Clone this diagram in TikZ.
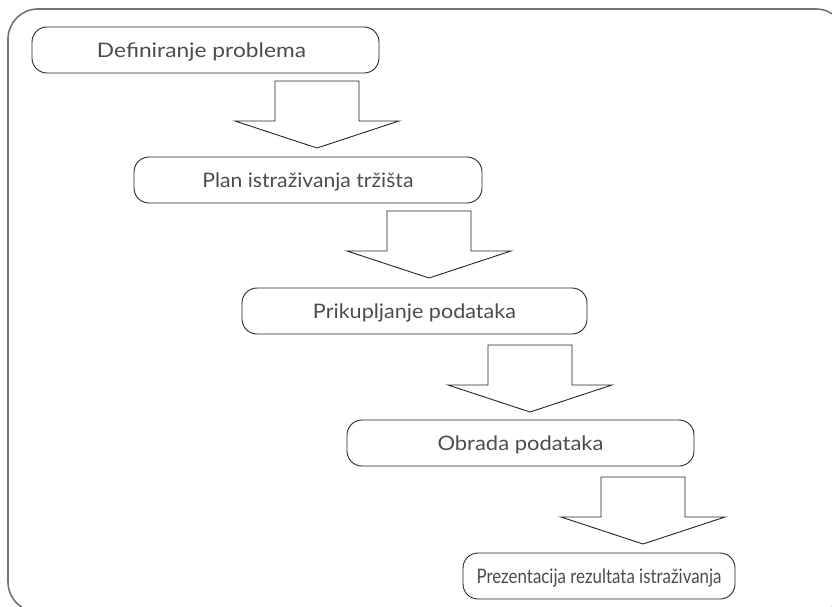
\documentclass[tikz,border=0pt]{standalone}
\usepackage{fontspec}
\usepackage{graphicx}
\setmainfont{Lato}
\newcommand{\fitw}[2]{\resizebox{#1}{\height}{#2}}
\begin{document}
\begin{tikzpicture}[x=1pt,y=-1pt,
  stepbox/.style={draw=black!85, line width=0.9pt, rounded corners=15pt, minimum height=46pt, inner sep=0pt, text height=14.4pt, text depth=0pt, text=black!70, font=\fontsize{20}{24}\selectfont},
  blockarrow/.style={draw=black!85, line width=0.9pt, fill=white}]
\useasboundingbox (0,0) rectangle (832,607);
% outer frame (partly cropped at right and bottom)
\draw[black!55, line width=1.6pt, rounded corners=30pt] (8,9) rectangle (846,612);
% steps
\node[stepbox, minimum width=347pt] (b1) at (205.5,50) {\hspace*{-8pt}\fitw{209pt}{Definiranje problema}};
\node[stepbox, minimum width=348pt] (b2) at (308,180) {\fitw{211pt}{Plan istraživanja tržišta}};
\node[stepbox, minimum width=345pt] (b3) at (414.5,311) {\fitw{203pt}{Prikupljanje podataka}};
\node[stepbox, minimum width=347pt] (b4) at (520.5,443) {\fitw{166pt}{Obrada podataka}};
\node[stepbox, minimum width=272pt] (b5) at (599,576) {\fitw{245pt}{Prezentacija rezultata istraživanja}};
% block arrows (tip coordinates)
\coordinate (t1) at (317,148);
\coordinate (t2) at (429,278);
\coordinate (t3) at (530,412);
\coordinate (t4) at (643,544);
\foreach \t in {t1,t2,t3,t4}{
  \draw[blockarrow] (\t) -- ++(-82,-27) -- ++(40,0) -- ++(0,-40) -- ++(84,0) -- ++(0,40) -- ++(40,0) -- cycle;
}
\end{tikzpicture}
\end{document}
